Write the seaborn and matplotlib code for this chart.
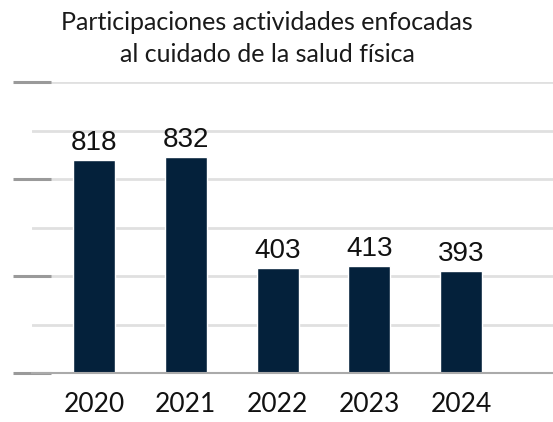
import matplotlib
matplotlib.use("Agg")
import matplotlib.pyplot as plt
import seaborn as sns
import pandas as pd
import numpy as np

# --- datos ---
anios = ["2020", "2021", "2022", "2023", "2024"]
participaciones = [818, 832, 403, 413, 393]
titulo = "Participaciones actividades enfocadas\nal cuidado de la salud física"

BAR_COLOR = "#04213b"
GRID_COLOR = "#e0e0e0"
TICK_COLOR = "#9a9a9a"

sns.set_theme(style="white")
plt.rcParams['font.family'] = ['Lato', 'DejaVu Sans']

df = pd.DataFrame({"anio": anios, "valor": participaciones})

fig = plt.figure(figsize=(5.53, 4.22), dpi=100)
W, H = 553, 422
ax = fig.add_axes([32 / W, 1 - 373 / H, (553 - 32) / W, (373 - 82) / H])

sns.barplot(data=df, x="anio", y="valor", color=BAR_COLOR, width=0.458,
            saturation=1, ax=ax)

ymax = 1120
ax.set_ylim(0, ymax)
ax.set_xlim(-0.676, 5.0)

# lineas de cuadricula (todas claras) y marcas oscuras cada dos
ax.set_yticks(np.linspace(0, ymax, 4))
ax.set_yticks(np.linspace(0, ymax, 7), minor=True)
ax.grid(axis="y", which="both", color=GRID_COLOR, linewidth=2)
ax.set_axisbelow(True)
ax.tick_params(axis="y", which="major", direction="inout", length=27,
               width=2.2, color=TICK_COLOR, left=True, labelleft=False)
ax.tick_params(axis="y", which="minor", left=False)
ax.tick_params(axis="x", length=0, pad=14, labelsize=19, labelcolor="#111111")

for s in ["left", "right", "top"]:
    ax.spines[s].set_visible(False)
ax.spines["bottom"].set_color("#aaaaaa")
ax.spines["bottom"].set_linewidth(1.5)

ax.set_xlabel("")
ax.set_ylabel("")

# etiquetas de valor
for cont in ax.containers:
    ax.bar_label(cont, labels=[str(v) for v in participaciones], padding=3,
                 fontsize=20, color="#111111", family=["Liberation Sans", "DejaVu Sans"])

fig.text(267 / W, 1 - 11 / H, titulo, ha="center", va="top", fontsize=18,
         color="#1a1a1a", linespacing=1.5)

fig.savefig("out.png", dpi=100)
